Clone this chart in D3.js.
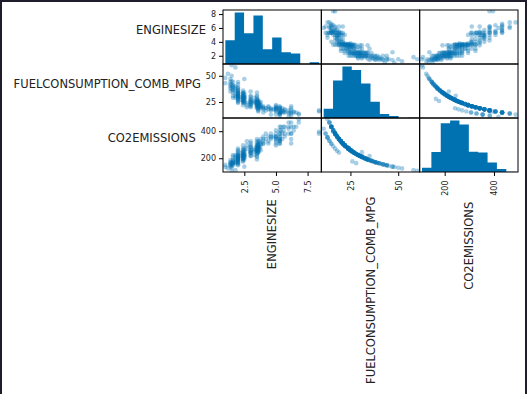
<!DOCTYPE html>
<html>
<head>
<meta charset="utf-8">
<script src="https://cdn.jsdelivr.net/npm/d3@7/dist/d3.min.js"></script>
<style>
    body { margin: 0; background: #fff; }
    svg { display: block; font-family: "DejaVu Sans", sans-serif; }
</style>
</head>
<body>
<div id="wrapper"></div>
<script>

// one entry per car, same order in all three arrays
const engineSize = [
    1.0, 1.2, 1.4, 1.4, 1.4, 1.5, 1.5, 1.5, 1.6, 1.6, 1.6, 1.6, 1.6, 1.6, 1.4, 1.5, 1.6, 1.4, 1.6, 1.0, 1.6, 1.5, 1.4,
    1.8, 1.8, 1.8, 1.8, 1.8, 1.8, 2.0, 2.0, 2.0, 2.0, 2.0, 2.0, 2.0, 2.0, 2.0, 2.0, 2.0, 2.0, 2.0, 2.0, 2.0, 2.0, 2.0, 2.0, 2.0,
    2.0, 2.0, 2.0, 2.0, 2.3, 2.3, 2.4, 2.4, 2.4, 2.4, 2.4, 2.4, 2.4, 2.4, 2.4, 2.4, 2.4, 2.4, 2.4, 2.4, 2.4, 2.4, 2.0, 1.8, 2.4, 2.0,
    2.5, 2.5, 2.5, 2.5, 2.5, 2.5, 2.5, 2.5, 2.5, 2.5, 2.5, 2.5, 2.7, 2.7, 2.7,
    3.0, 3.0, 3.0, 3.0, 3.0, 3.0, 3.0, 3.0, 3.0, 3.0, 3.0, 3.0, 3.0, 3.0, 3.0,
    3.3, 3.3, 3.3, 3.5, 3.5, 3.5, 3.5, 3.5, 3.5, 3.5, 3.5, 3.5, 3.5, 3.5, 3.5, 3.5, 3.5, 3.5, 3.5,
    3.6, 3.6, 3.6, 3.6, 3.6, 3.6, 3.6, 3.6, 3.6, 3.6, 3.6, 3.6, 3.6, 3.6,
    3.7, 3.7, 3.7, 3.7, 3.8, 3.8, 3.8, 3.8, 3.5, 3.3, 3.5,
    4.0, 4.0, 4.0, 4.0, 4.2, 4.2, 4.4, 4.4, 4.4, 4.6, 4.6, 4.6, 4.0, 4.6,
    4.8, 5.0, 5.0, 5.0, 5.0, 5.0, 5.0, 5.0, 5.0, 5.0, 5.3, 5.3, 5.3, 5.3, 5.3, 5.3, 5.3, 5.3,
    5.3, 5.3, 5.3, 5.3, 5.3, 5.4, 5.4, 5.0,
    5.5, 5.5, 5.6, 5.6, 5.7, 5.7, 5.7, 6.0, 6.0, 6.0, 6.0,
    6.2, 6.2, 6.2, 6.2, 6.2, 6.4, 6.4, 6.6, 6.8, 6.8, 6.2,
    8.4, 8.4
];
const fuelMpg = [
    48, 52, 44, 40, 38, 45, 42, 60, 41, 39, 36, 34, 44, 31, 47, 50, 37, 35, 29, 43, 40, 38, 42,
    58, 40, 36, 33, 38, 31, 42, 39, 37, 35, 34, 33, 32, 31, 30, 29, 28, 27, 26, 36, 34, 32, 30, 38, 44,
    25, 33, 31, 29, 30, 27, 34, 33, 32, 31, 30, 29, 28, 27, 26, 25, 24, 36, 30, 28, 22, 33, 24, 29, 26, 28,
    32, 30, 29, 28, 27, 26, 25, 31, 34, 24, 29, 47, 24, 22, 20,
    28, 27, 26, 25, 24, 23, 22, 21, 30, 25, 23, 27, 20, 35, 31,
    26, 25, 24, 27, 26, 25, 24, 23, 22, 21, 20, 28, 26, 24, 23, 22, 25, 19, 30,
    27, 26, 25, 24, 23, 22, 21, 20, 24, 22, 17, 18, 16, 19,
    23, 21, 20, 24, 25, 22, 21, 19, 31, 29, 34,
    21, 20, 18, 19, 19, 17, 20, 18, 21, 19, 17, 18, 15, 13,
    18, 21, 20, 19, 18, 17, 16, 22, 19, 18, 20, 19, 18, 17, 16, 15, 21, 19,
    14, 13, 12, 15, 14, 15, 16, 13,
    19, 17, 16, 15, 18, 17, 15, 17, 15, 14, 11,
    21, 19, 17, 15, 14, 16, 15, 15, 14, 13, 12,
    16, 17
];
const co2Emissions = [
    135, 125, 148, 163, 171, 144, 155, 108, 159, 167, 181, 191, 148, 210, 138, 130, 176, 186, 224, 151, 163, 171, 155,
    112, 163, 181, 197, 171, 210, 155, 167, 176, 186, 191, 197, 203, 210, 217, 224, 232, 241, 250, 181, 191, 203, 217, 171, 148,
    260, 197, 210, 224, 217, 241, 191, 197, 203, 210, 217, 224, 232, 241, 250, 260, 271, 181, 217, 232, 295, 197, 271, 224, 177, 164,
    203, 217, 224, 232, 241, 250, 260, 210, 191, 271, 224, 138, 271, 295, 325,
    232, 241, 250, 260, 271, 283, 295, 310, 217, 260, 283, 241, 325, 217, 245,
    250, 260, 271, 241, 250, 260, 271, 283, 295, 310, 325, 232, 250, 271, 283, 295, 260, 342, 217,
    241, 250, 260, 271, 283, 295, 310, 325, 271, 295, 271, 256, 288, 242,
    283, 310, 325, 271, 260, 295, 310, 342, 210, 224, 191,
    310, 325, 361, 342, 342, 382, 325, 361, 310, 342, 382, 361, 307, 354,
    361, 310, 325, 342, 361, 382, 406, 295, 342, 361, 325, 342, 361, 382, 406, 433, 310, 342,
    329, 354, 383, 307, 329, 433, 406, 354,
    342, 382, 406, 433, 361, 382, 433, 382, 433, 464, 418,
    310, 342, 382, 433, 464, 406, 433, 433, 464, 488, 383,
    396, 382
];

const columns = ["ENGINESIZE", "FUELCONSUMPTION_COMB_MPG", "CO2EMISSIONS"];
const dataRanges = [[1.0, 8.4], [11, 60], [108, 488]];

// histogram counts on the diagonal, 10 bins each
const engineCounts = [115, 250, 149, 236, 72, 129, 57, 51, 0, 8];
const mpgCounts = [49, 197, 270, 252, 181, 85, 21, 11, 0, 1];
const co2Counts = [20, 95, 232, 245, 226, 96, 93, 45, 14, 1];

const xTickValues = [[2.5, 5.0, 7.5], [25, 50], [200, 400]];
const yTickValues = [[2, 4, 6, 8], [25, 50], [200, 400]];
const tickFormats = [d3.format(".1f"), d3.format("d"), d3.format("d")];

let dimension = {
    width: 527,
    height: 394,
    margin: { top: 10, left: 223, bottom: 222, right: 9 }
};
dimension.boundedWidth = dimension.width - dimension.margin.left - dimension.margin.right;
dimension.boundedHeight = dimension.height - dimension.margin.top - dimension.margin.bottom;

const blue = "#0072B2";

function buildPlot() {
    const values = [engineSize, fuelMpg, co2Emissions];
    const counts = [engineCounts, mpgCounts, co2Counts];
    const n = columns.length;
    const cw = dimension.boundedWidth / n;
    const ch = dimension.boundedHeight / n;

    const svg = d3.select("#wrapper").append("svg")
        .attr("width", dimension.width)
        .attr("height", dimension.height);

    // dark window edges
    svg.append("rect").attr("x", 0).attr("y", 0).attr("width", dimension.width).attr("height", 2).attr("fill", "#1f1d2b");
    svg.append("rect").attr("x", 0).attr("y", 0).attr("width", 2).attr("height", dimension.height).attr("fill", "#1f1d2b");
    svg.append("rect").attr("x", 525).attr("y", 0).attr("width", 2).attr("height", dimension.height).attr("fill", "#1f1d2b");

    // padded ranges like pandas (5%)
    const padded = dataRanges.map(r => {
        const ext = (r[1] - r[0]) * 0.025;
        return [r[0] - ext, r[1] + ext];
    });
    const xScales = padded.map(d => d3.scaleLinear().domain(d).range([0, cw]));
    const yScales = padded.map(d => d3.scaleLinear().domain(d).range([ch, 0]));

    const bounds = svg.append("g")
        .attr("transform", `translate(${dimension.margin.left},${dimension.margin.top})`);

    for (let i = 0; i < n; i++) {
        for (let j = 0; j < n; j++) {
            const cell = bounds.append("g")
                .attr("transform", `translate(${j * cw},${i * ch})`);
            const clipId = `clip-${i}-${j}`;
            cell.append("clipPath").attr("id", clipId)
                .append("rect").attr("width", cw).attr("height", ch);
            const inner = cell.append("g").attr("clip-path", `url(#${clipId})`);

            if (i === j) {
                const r = dataRanges[i];
                const step = (r[1] - r[0]) / counts[i].length;
                const yCount = d3.scaleLinear()
                    .domain([0, d3.max(counts[i]) * 1.05])
                    .range([ch, 0]);
                // one path so adjacent bars show no seams
                const area = d3.area()
                    .curve(d3.curveStepAfter)
                    .x(d => xScales[j](d.x))
                    .y0(ch)
                    .y1(d => yCount(d.c));
                const steps = counts[i].map((c, k) => ({ x: r[0] + k * step, c: c }));
                steps.push({ x: r[1], c: 0 });
                inner.append("path")
                    .datum(steps)
                    .attr("d", area)
                    .attr("fill", blue);
            } else {
                inner.selectAll("circle")
                    .data(d3.range(engineSize.length))
                    .enter()
                    .append("circle")
                    .attr("cx", k => xScales[j](values[j][k]))
                    .attr("cy", k => yScales[i](values[i][k]))
                    .attr("r", 2.3)
                    .attr("fill", blue)
                    .attr("fill-opacity", 0.34);
            }

            cell.append("rect")
                .attr("width", cw)
                .attr("height", ch)
                .attr("fill", "none")
                .attr("stroke", "#000")
                .attr("stroke-width", 1);
        }
    }

    // y axes on the left column
    for (let i = 0; i < n; i++) {
        const yAxis = bounds.append("g")
            .attr("transform", `translate(0,${i * ch})`)
            .call(d3.axisLeft(yScales[i]).tickValues(yTickValues[i]).tickSize(4).tickPadding(3));
        yAxis.select(".domain").remove();
        yAxis.selectAll("line").attr("stroke", "#000");
        yAxis.selectAll("text").attr("font-size", 8).attr("fill", "#222")
            .attr("font-family", "DejaVu Sans");
        const box = yAxis.node().getBBox();
        bounds.append("text")
            .attr("x", box.x - 5)
            .attr("y", i * ch + ch / 2 - 3)
            .attr("text-anchor", "end")
            .attr("font-size", 11.5)
            .attr("fill", "#222")
            .text(columns[i]);
    }

    // x axes on the bottom row, rotated labels
    for (let j = 0; j < n; j++) {
        const xAxis = bounds.append("g")
            .attr("transform", `translate(${j * cw},${dimension.boundedHeight})`)
            .call(d3.axisBottom(xScales[j]).tickValues(xTickValues[j]).tickFormat(tickFormats[j]).tickSize(4));
        xAxis.select(".domain").remove();
        xAxis.selectAll("line").attr("stroke", "#000");
        xAxis.selectAll("text")
            .attr("font-size", 8)
            .attr("fill", "#222")
            .attr("font-family", "DejaVu Sans")
            .attr("transform", "rotate(-90)")
            .attr("x", -8.5)
            .attr("y", 0)
            .attr("dy", "0.35em")
            .attr("text-anchor", "end");
        const box = xAxis.node().getBBox();
        const top = dimension.boundedHeight + box.y + box.height + 6;
        bounds.append("text")
            .attr("transform", `translate(${j * cw + cw / 2},${top}) rotate(-90)`)
            .attr("dy", "0.35em")
            .attr("text-anchor", "end")
            .attr("font-size", 11.5)
            .attr("fill", "#222")
            .text(columns[j]);
    }
}

buildPlot()

</script>
</body>
</html>
